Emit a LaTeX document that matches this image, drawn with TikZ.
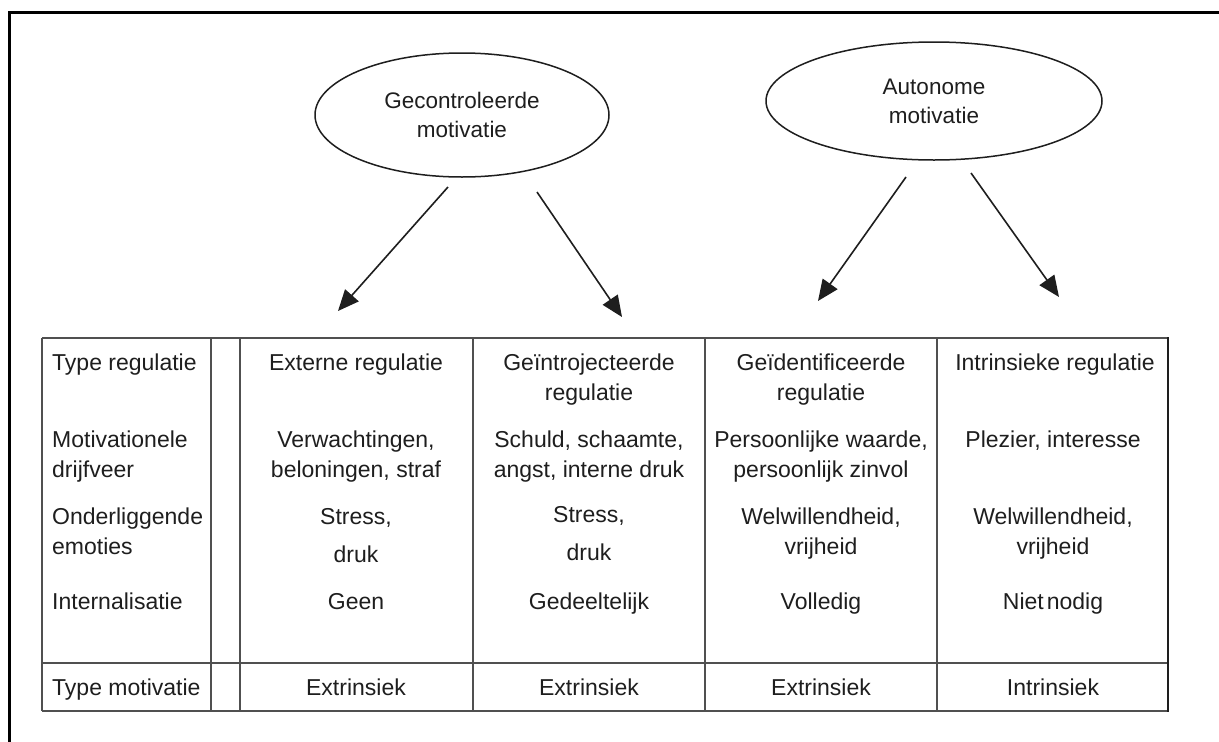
\documentclass[tikz,border=0pt]{standalone}
\usepackage{fontspec}
\setmainfont{Liberation Sans}
\usetikzlibrary{shapes.geometric,arrows.meta}
\newcommand\tabfont{\fontsize{23}{30}\selectfont}
\newcommand\ellfont{\fontsize{22.5}{29}\selectfont}
\definecolor{ink}{HTML}{1E1E1E}
\definecolor{rule}{HTML}{505050}
\tikzset{
  ell/.style={draw=ink, line width=1.5pt, ellipse, inner sep=0pt, align=center, font=\ellfont, text=ink},
  arr/.style={draw=ink, line width=1.6pt, -{Triangle[length=21pt,width=18pt]}},
  cell/.style={anchor=north, align=center, inner sep=0pt, font=\tabfont, text=ink},
  lab/.style={anchor=north west, align=left, inner sep=0pt, font=\tabfont, text=ink},
  grid/.style={draw=rule, line width=1.3pt}
}
\begin{document}
\begin{tikzpicture}[x=1pt,y=-1pt]
\useasboundingbox (0,0) rectangle (1219,742);
\fill[white] (0,0) rectangle (1219,742);
\clip (0,0) rectangle (1219,742);
% outer frame (partially visible)
\draw[line width=3pt, black] (9,760) -- (9,12) -- (1240,12);

% ellipses
\node[ell, minimum width=294pt, minimum height=124pt] (gc) at (462,115) {Gecontroleerde\\motivatie};
\node[ell, minimum width=336pt, minimum height=118pt] (au) at (934,101) {Autonome\\motivatie};

% arrows
\coordinate (a1s) at (448,187); \coordinate (a1e) at (338,311);
\coordinate (a2s) at (537,192); \coordinate (a2e) at (622,317);
\coordinate (a3s) at (906,177); \coordinate (a3e) at (818,301);
\coordinate (a4s) at (971,173); \coordinate (a4e) at (1059,297);
\draw[arr] (a1s) -- (a1e);
\draw[arr] (a2s) -- (a2e);
\draw[arr] (a3s) -- (a3e);
\draw[arr] (a4s) -- (a4e);

% table grid
\draw[grid] (42,338) -- (1168,338);
\draw[grid] (42,711) -- (1168,711);
\draw[grid] (42,663) -- (1168,663);
\draw[grid] (42,338) -- (42,711);
\draw[grid] (211,338) -- (211,711);
\draw[grid] (240,338) -- (240,711);
\draw[grid] (473,338) -- (473,711);
\draw[grid] (705,338) -- (705,711);
\draw[grid] (937,338) -- (937,711);
\draw[draw=ink, line width=2pt] (1168,337) -- (1168,712);

% label column
\node[lab] (l1) at (52,349) {\strut Type regulatie};
\node[lab] (l2) at (52,426) {\strut Motivationele\\\strut drijfveer};
\node[lab] (l3) at (52,503) {\strut Onderliggende\\\strut emoties};
\node[lab] (l4) at (52,588) {\strut Internalisatie};
\node[lab] (l5) at (52,674) {\strut Type motivatie};

% column 1
\node[cell] (c11) at (356,349) {\strut Externe regulatie};
\node[cell] (c12) at (356,426) {\strut Verwachtingen,\\\strut beloningen, straf};
\node[cell] (c13) at (356,503) {\strut Stress,\\[8pt]\strut druk};
\node[cell] (c14) at (356,588) {\strut Geen};
\node[cell] (c15) at (356,674) {\strut Extrinsiek};

% column 2
\node[cell] (c21) at (589,349) {\strut Geïntrojecteerde\\\strut regulatie};
\node[cell] (c22) at (589,426) {\strut Schuld, schaamte,\\\strut angst, interne druk};
\node[cell] (c23) at (589,501) {\strut Stress,\\[8pt]\strut druk};
\node[cell] (c24) at (589,588) {\strut Gedeeltelijk};
\node[cell] (c25) at (589,674) {\strut Extrinsiek};

% column 3
\node[cell] (c31) at (821,349) {\strut Geïdentificeerde\\\strut regulatie};
\node[cell] (c32) at (821,426) {\strut Persoonlijke waarde,\\\strut persoonlijk zinvol};
\node[cell] (c33) at (821,503) {\strut Welwillendheid,\\\strut vrijheid};
\node[cell] (c34) at (821,588) {\strut Volledig};
\node[cell] (c35) at (821,674) {\strut Extrinsiek};

% column 4
\node[cell] (c41) at (1055,349) {\strut Intrinsieke regulatie};
\node[cell] (c42) at (1053,426) {\strut Plezier, interesse};
\node[cell] (c43) at (1053,503) {\strut Welwillendheid,\\\strut vrijheid};
\node[cell] (c44) at (1053,588) {\strut Niet\hspace{3pt}nodig};
\node[cell] (c45) at (1053,674) {\strut Intrinsiek};
\end{tikzpicture}
\end{document}
